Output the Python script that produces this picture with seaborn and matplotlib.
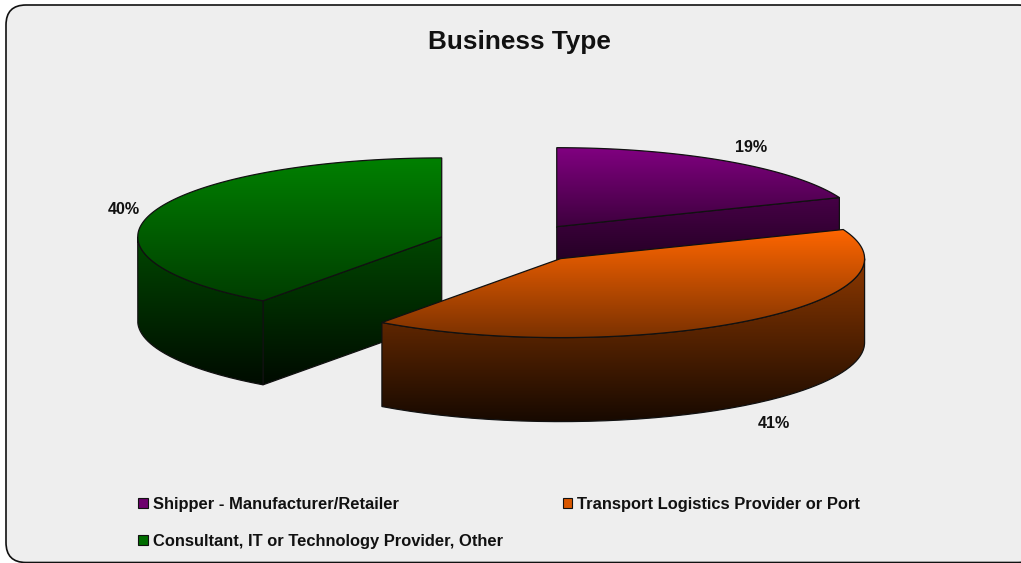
import numpy as np
import matplotlib
matplotlib.use("Agg")
import matplotlib.pyplot as plt
from matplotlib.patches import FancyBboxPatch, PathPatch, Patch
from matplotlib.path import Path
import seaborn as sns

categories = ["Shipper - Manufacturer/Retailer",
              "Transport Logistics Provider or Port",
              "Consultant, IT or Technology Provider, Other"]
shares = [19, 41, 40]
share_labels = ["19%", "41%", "40%"]
colors = ["#800080", "#FF6600", "#008000"]

W, H = 1021, 563
CX, CY = 514, 243      # pie centre before exploding
RX, RY = 304, 79
DEPTH = 84
EXPLODE = 76
BG = "#EEEEEE"

sns.set_theme(style="white")
plt.rcParams["font.family"] = ["Liberation Sans", "DejaVu Sans"]

fig = plt.figure(figsize=(W / 100, H / 100), dpi=100, facecolor="white")
ax = fig.add_axes([0, 0, 1, 1])
ax.set_xlim(0, W)
ax.set_ylim(H, 0)
ax.axis("off")

# right side of the frame runs off the picture
frame = FancyBboxPatch((6, 5), 1032, 557.5, boxstyle="round,pad=0,rounding_size=20",
                       fc=BG, ec="#111111", lw=1.2, zorder=0)
ax.add_patch(frame)


def ellipse_pts(c, a0, a1, n=120):
    # angles in degrees, clockwise from 12 o'clock
    t = np.radians(np.linspace(a0, a1, n))
    return np.column_stack([c[0] + RX * np.sin(t), c[1] - RY * np.cos(t)])


def poly(pts):
    pts = np.vstack([pts, pts[0]])
    return Path(pts, closed=False)


def fill(pts, cols, z):
    # polygon filled with a vertical gradient, with a thin black outline
    cmap = sns.blend_palette(cols, n_colors=256, as_cmap=True)
    x0, y0 = pts.min(axis=0)
    x1, y1 = pts.max(axis=0)
    grad = np.linspace(0, 1, 256).reshape(-1, 1)
    im = ax.imshow(grad, cmap=cmap, extent=(x0, x1, y1, y0), aspect="auto", zorder=z, vmin=0, vmax=1)
    edge = PathPatch(poly(pts), fc="none", ec="#111111", lw=0.9, zorder=z + 0.1)
    ax.add_patch(edge)
    im.set_clip_path(edge)
    ax.set_xlim(0, W)
    ax.set_ylim(H, 0)


def shade(col, f):
    r, g, b = matplotlib.colors.to_rgb(col)
    return (r * f, g * f, b * f)


ends = np.cumsum(shares) / sum(shares) * 360
starts = np.r_[0, ends[:-1]]
mids = (starts + ends) / 2
centres = [(CX + EXPLODE * np.sin(np.radians(m)), CY - EXPLODE * RY / RX * np.cos(np.radians(m))) for m in mids]


def draw_slice(i, z):
    c, a0, a1, col = centres[i], starts[i], ends[i], colors[i]
    top = np.vstack([[c], ellipse_pts(c, a0, a1)])
    down = np.array([0, DEPTH])
    # radial faces that look towards the viewer
    for a in (a0, a1):
        p = ellipse_pts(c, a, a, 1)[0]
        facing = (a == a1 and 0 < a < 180) or (a == a0 and 180 < a < 360)
        if facing:
            fill(np.array([c, p, p + down, np.array(c) + down]), [shade(col, 0.55), shade(col, 0.08)], z)
    # outer wall, only the lower half of the ellipse shows
    w0, w1 = max(a0, 90), min(a1, 270)
    if w0 < w1:
        arc = ellipse_pts(c, w0, w1)
        fill(np.vstack([arc, (arc + down)[::-1]]), [shade(col, 0.55), shade(col, 0.09)], z + 0.2)
    fill(top, [col, shade(col, 0.48)], z + 0.4)


# back to front: purple, green, then orange on top
for z, i in zip((1, 2, 3), (0, 2, 1)):
    draw_slice(i, z)

ax.text(519, 42, "Business Type", ha="center", va="center", fontsize=18.8, fontweight="bold", color="#111111")

for txt, x, y in zip(share_labels, (751, 774, 124), (147, 423, 209)):
    ax.text(x, y, txt, ha="center", va="center", fontsize=11.6, fontweight="bold", color="#111111", zorder=6)

# ncol=2 fills the first column first, so the third category goes second
order = [0, 2, 1]
handles = [Patch(fc=shade(colors[i], 0.85), ec="#111111", lw=0.8) for i in order]
labels = [categories[i] for i in order]
fs = 11.85
px = 100 / 72 * fs
leg = ax.legend(handles, labels, ncol=2, loc="lower left", bbox_to_anchor=(138 / W, 1 - 549 / H),
                frameon=False, handlelength=9.5 / px, handleheight=9.5 / px, handletextpad=5 / px,
                columnspacing=60 / px, labelspacing=1.35, borderpad=0, borderaxespad=0,
                prop={"weight": "bold", "size": fs})
for t in leg.get_texts():
    t.set_color("#111111")

fig.savefig("out.png", dpi=100, facecolor="white")
